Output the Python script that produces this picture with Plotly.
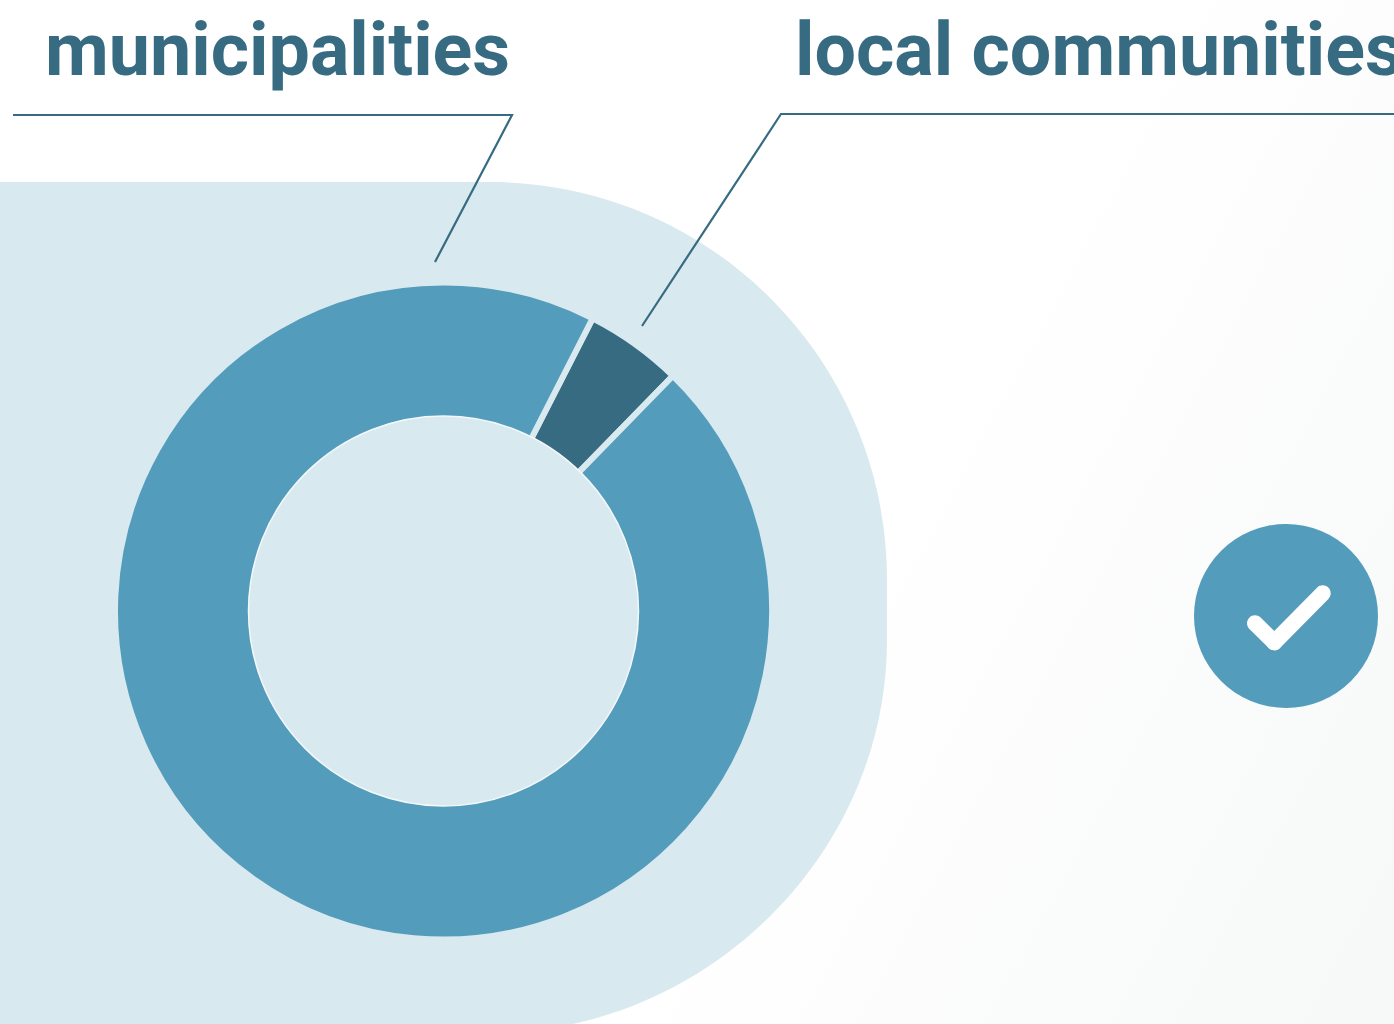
import base64
import plotly.graph_objects as go

# Share of each recipient group
labels = ["local communities", "municipalities"]
values = [4.8, 95.2]
slice_colors = ["#366b82", "#539cbb"]

W, H = 1394, 1024
TEXT = "#366b82"
PANEL = "#d8e9ef"
ACCENT = "#539cbb"

CX, CY = 443.5, 611
R_OUT, R_HOLE = 325.5, 195
GAP = 6


def circle(cx, cy, r, **kw):
    return dict(type="circle", xref="x", yref="y", x0=cx - r, x1=cx + r, y0=cy - r, y1=cy + r, **kw)


def capsule(x0, y0, x1, y1, r):
    """Closed rounded bar between two points, built from cubic curves."""
    k = 0.5523 * r
    L = ((x1 - x0) ** 2 + (y1 - y0) ** 2) ** 0.5
    ux, uy = (x1 - x0) / L, (y1 - y0) / L
    nx, ny = -uy, ux
    p = lambda x, y, a, b: f"{x + a * ux + b * nx:.2f},{y + a * uy + b * ny:.2f}"
    return (
        f"M{p(x0, y0, 0, r)} L{p(x1, y1, 0, r)} "
        f"C{p(x1, y1, k, r)} {p(x1, y1, r, k)} {p(x1, y1, r, 0)} "
        f"C{p(x1, y1, r, -k)} {p(x1, y1, k, -r)} {p(x1, y1, 0, -r)} "
        f"L{p(x0, y0, 0, -r)} "
        f"C{p(x0, y0, -k, -r)} {p(x0, y0, -r, -k)} {p(x0, y0, -r, 0)} "
        f"C{p(x0, y0, -r, k)} {p(x0, y0, -k, r)} {p(x0, y0, 0, r)} Z"
    )


# Soft grey wash toward the lower right of the page
wash = (
    f'<svg xmlns="http://www.w3.org/2000/svg" width="{W}" height="{H}">'
    '<defs><linearGradient id="g" gradientUnits="userSpaceOnUse" x1="950" y1="420" x2="1500" y2="715">'
    '<stop offset="0" stop-color="#ffffff"/><stop offset="1" stop-color="#f7f8f8"/>'
    "</linearGradient></defs>"
    f'<rect width="{W}" height="{H}" fill="url(#g)"/></svg>'
)
wash_uri = "data:image/svg+xml;base64," + base64.b64encode(wash.encode()).decode()

panel_path = (
    "M-20,182 L490,182 C709,182 887,360 887,580 L887,640 "
    "C887,855 705,1033 490,1033 L-20,1033 Z"
)

fig = go.Figure()

# Axes in page pixels carry the decoration and the labels
fig.add_trace(go.Scatter(x=[0, W], y=[0, H], mode="none", showlegend=False, hoverinfo="skip"))

pad = GAP / 2
fig.add_trace(
    go.Pie(
        labels=labels,
        values=values,
        sort=False,
        direction="clockwise",
        rotation=27,
        hole=(R_HOLE - pad) / (R_OUT + pad),
        textinfo="none",
        hoverinfo="label+percent",
        showlegend=False,
        marker=dict(colors=slice_colors, line=dict(color=PANEL, width=GAP)),
        domain=dict(
            x=[(CX - R_OUT - pad) / W, (CX + R_OUT + pad) / W],
            y=[1 - (CY + R_OUT + pad) / H, 1 - (CY - R_OUT - pad) / H],
        ),
    )
)

shapes = [
    dict(type="path", xref="x", yref="y", path=panel_path, fillcolor=PANEL, line_width=0, layer="below"),
    # Pale rim around the hole
    circle(CX, CY, R_HOLE, line=dict(color="#f3f8fa", width=1.5), layer="above"),
    # Leader lines
    dict(type="path", xref="x", yref="y", path="M13,115 L512,115 L435,262",
         line=dict(color=TEXT, width=2.2), layer="above"),
    dict(type="path", xref="x", yref="y", path="M1400,114 L781,114 L642,326",
         line=dict(color=TEXT, width=2.2), layer="above"),
    # Check badge
    circle(1286, 616, 92, fillcolor=ACCENT, line_width=0, layer="above"),
    dict(type="path", xref="x", yref="y", path=capsule(1255, 623.3, 1274.3, 642.3, 8),
         fillcolor="#ffffff", line_width=0, layer="above"),
    dict(type="path", xref="x", yref="y", path=capsule(1274.3, 642.3, 1322.7, 593.3, 8),
         fillcolor="#ffffff", line_width=0, layer="above"),
]

heading_font = dict(family="Roboto", size=73.6, color=TEXT, weight="bold")
annotations = [
    dict(text="municipalities", x=43, y=77, xref="x", yref="y", xanchor="left", yanchor="bottom",
         yshift=-18, showarrow=False, font=heading_font),
    dict(text="local communities", x=793, y=77, xref="x", yref="y", xanchor="left", yanchor="bottom",
         yshift=-18, showarrow=False, font=heading_font),
]

fig.update_layout(
    width=W,
    height=H,
    margin=dict(l=0, r=0, t=0, b=0),
    paper_bgcolor="rgba(0,0,0,0)",
    plot_bgcolor="rgba(0,0,0,0)",
    xaxis=dict(range=[0, W], visible=False, fixedrange=True),
    yaxis=dict(range=[H, 0], visible=False, fixedrange=True),
    shapes=shapes,
    annotations=annotations,
    images=[dict(source=wash_uri, xref="paper", yref="paper", x=0, y=1, sizex=1, sizey=1,
                 sizing="stretch", xanchor="left", yanchor="top", layer="below")],
)

fig.write_html("out.html", config=dict(displayModeBar=False))
